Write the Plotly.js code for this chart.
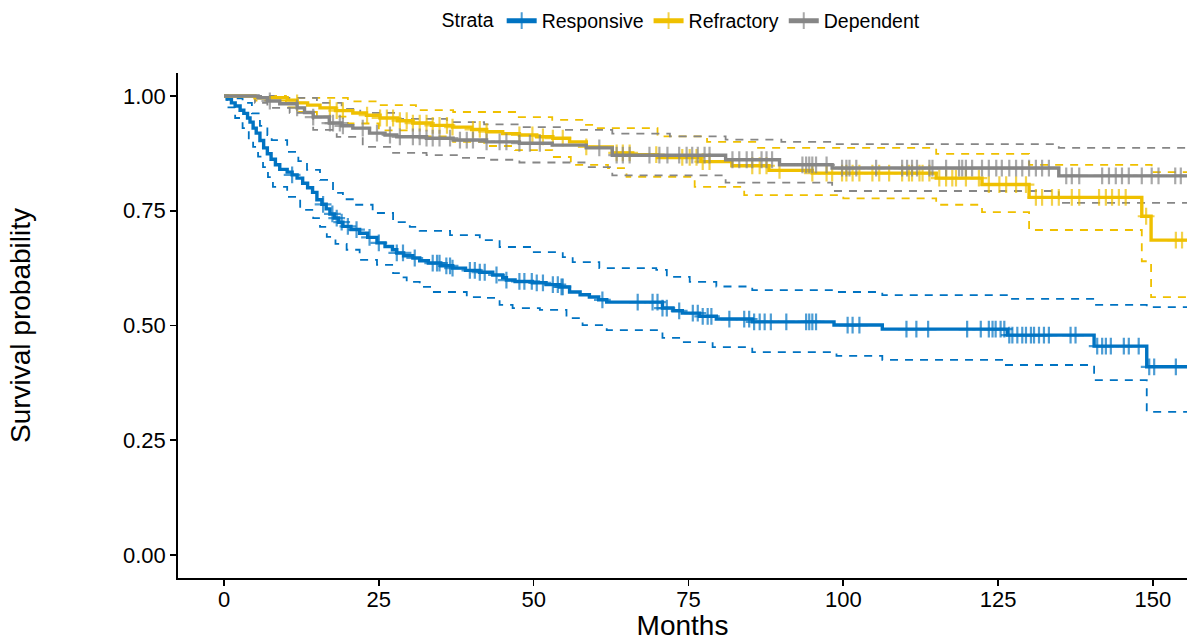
<!DOCTYPE html>
<html>
<head>
<meta charset="utf-8">
<script src="https://cdn.plot.ly/plotly-3.0.1.min.js"></script>
<style>html,body{margin:0;padding:0;background:#fff;}#chart{width:1187px;height:641px;}</style>
</head>
<body>
<div id="chart"></div>
<script>
// ---------- data ----------
const strata = ['Responsive', 'Refractory', 'Dependent'];
const colors = ['#0073C2', '#EFC000', '#868686'];

// Responsive
const respTime = [0,0.5,1.2,1.8,2.6,3.2,3.8,4.2,4.7,5.2,5.8,6.4,7.0,7.6,8.3,9.0,10.2,11.0,11.8,12.7,13.5,14.3,15.0,15.8,16.5,17.1,17.8,18.5,19.2,20.5,21.9,23.2,24.7,26.0,27.2,27.9,29.0,30.5,31.6,33.0,35.0,36.9,39.0,41.3,43.4,45.0,45.6,47.0,49.8,52.0,54.2,55.8,57.5,59.0,60.5,61.8,70.8,72.5,74.0,76.8,79.5,85.3,98.5,106.3,126.5,140.5,149.0,160];
const respSurv = [1,0.993,0.985,0.978,0.969,0.962,0.952,0.943,0.93,0.919,0.903,0.887,0.874,0.862,0.85,0.84,0.834,0.828,0.821,0.81,0.80,0.79,0.774,0.764,0.754,0.743,0.734,0.725,0.716,0.709,0.701,0.692,0.68,0.672,0.665,0.658,0.652,0.647,0.641,0.636,0.63,0.625,0.62,0.616,0.61,0.604,0.599,0.596,0.593,0.589,0.584,0.573,0.567,0.562,0.556,0.551,0.538,0.532,0.527,0.52,0.514,0.508,0.501,0.492,0.479,0.455,0.41,0.41];
const respUpperTime = [0,1.5,3,4.5,5.8,7.0,7.7,10.2,12,13.4,15.5,17.6,19.2,20.8,24,27.3,30,31.6,36.5,41.3,44.5,49.8,54.7,56.3,60.6,69.8,71.5,75.2,79.5,85.3,98.5,106.3,126.8,140.5,149,160];
const respUpper = [1,0.995,0.985,0.962,0.935,0.915,0.904,0.878,0.858,0.839,0.817,0.789,0.775,0.763,0.745,0.725,0.715,0.706,0.697,0.686,0.671,0.66,0.649,0.638,0.625,0.621,0.606,0.595,0.585,0.577,0.573,0.566,0.558,0.545,0.54,0.54];
const respLowerTime = [0,0.5,1.8,3,4.0,4.7,5.5,6.3,7.1,7.9,10.2,12.3,14.4,15.5,16.6,18,19.8,21.9,24.7,27.3,28.5,29.5,31.6,33.7,39.2,42.4,44.5,46.6,51,55.3,57.9,61.8,70.8,74,78.9,85.3,98.9,106.3,126,140.5,149,160];
const respLower = [1,0.975,0.952,0.93,0.905,0.889,0.868,0.845,0.823,0.802,0.78,0.752,0.734,0.715,0.693,0.678,0.665,0.643,0.632,0.614,0.605,0.595,0.584,0.573,0.562,0.56,0.545,0.538,0.534,0.516,0.501,0.49,0.473,0.464,0.453,0.442,0.434,0.425,0.414,0.381,0.312,0.312];
const respCensor = [11,16,17.5,18.2,19,20,21.4,23.5,25,27.9,28.9,30.8,33.7,34.4,34.8,35.9,36.5,36.9,39.7,40.5,41.3,42.1,44,45.6,47.7,48.5,49.7,50.5,51.5,53.1,53.9,54.5,54.7,61.1,66.8,69.2,70,70.8,71.5,73.5,75.7,76.5,77.3,78.1,78.7,81.6,84,84.8,85.6,86.5,87.3,88.3,90.8,94,94.5,95,95.6,100.7,101.5,102.6,110.2,111.8,113.7,120,122.2,123.5,124.1,124.6,125.4,126,126.8,127.3,128.1,128.9,129.5,130.3,130.8,131.6,132.4,133.2,136.7,137.5,141,141.8,142.4,143.2,145.3,146.1,147.7,149.4,150.2,153.7];

// Refractory
const refrTime = [0,5,10.2,11.8,13.5,15.5,18,20.8,23,25.2,28,30.5,33.5,36.9,40,42.4,45,47.7,50.5,53.1,55.8,58.5,62.7,66,70,77,82,88,95,115,122.4,130,148.2,149.7,160];
const refrSurv = [1,0.996,0.991,0.985,0.98,0.974,0.968,0.963,0.958,0.952,0.946,0.941,0.936,0.932,0.927,0.922,0.918,0.915,0.911,0.908,0.9,0.889,0.876,0.872,0.866,0.857,0.848,0.838,0.832,0.821,0.807,0.779,0.738,0.686,0.686];
const refrUpperTime = [0,10,20,25,31,37,47,53,58,60,70,78,86,115,130,149.8,160];
const refrUpper = [1,0.996,0.988,0.98,0.969,0.965,0.954,0.948,0.937,0.93,0.912,0.9,0.887,0.874,0.85,0.834,0.834];
const refrLowerTime = [0,5,10,12,15,20,25,30,37,42,47,53,56,62,65,76,84,100,115,122.4,130,148.2,149.7,160];
const refrLower = [1,0.99,0.975,0.965,0.955,0.94,0.925,0.912,0.9,0.891,0.882,0.867,0.85,0.843,0.824,0.802,0.784,0.777,0.763,0.747,0.708,0.64,0.562,0.562];
const refrCensor = [11.8,17.1,18.2,19.2,23.1,25.2,26.3,27.3,28.4,29.5,30.5,31.6,32.7,33.7,34.8,36,36.9,40.2,41.3,42.4,47.7,49.8,51.5,53.1,54.7,58.5,63.4,64.4,65.5,69.8,74,75.2,76.3,77.3,78.4,85.3,86.5,87.6,89.7,95,97.3,98.2,99.8,100.5,101.5,102.6,104.7,105.8,107.4,109.5,110.6,111.1,112.3,112.8,113.9,115.5,116.6,117.6,118.2,119.8,121.9,123.5,125.2,126.3,127.9,129.5,131.1,132.1,133.7,134.8,136.9,138.1,141.3,142.4,143.4,144.5,145.6,148.9,153.7,154.7];

// Dependent
const depTime = [0,5.5,7,9,11.8,13,14.4,17,19,20.8,23.5,26,27.9,32.7,37,42.4,47.7,53,58.5,62.7,81,89.7,98.2,134.8,160];
const depSurv = [1,0.996,0.989,0.983,0.974,0.964,0.954,0.941,0.935,0.93,0.919,0.915,0.911,0.908,0.904,0.9,0.897,0.893,0.887,0.871,0.861,0.85,0.843,0.826,0.826];
const depUpperTime = [0,8,15,19,22,28,36,42,48,55,62.7,72,81,90,98.2,134.8,160];
const depUpper = [1,0.996,0.985,0.972,0.963,0.95,0.943,0.938,0.932,0.926,0.918,0.912,0.905,0.9,0.895,0.887,0.887];
const depLowerTime = [0,5,7,10.6,14.4,18.2,22.4,27.3,32.7,37.6,42.4,47.7,58.5,62.7,81,98.2,134.8,160];
const depLower = [1,0.985,0.974,0.963,0.926,0.911,0.889,0.876,0.871,0.865,0.861,0.855,0.845,0.827,0.811,0.793,0.767,0.767];
const depCensor = [7.4,11.8,14.4,17.1,17.6,18.7,19.2,22.4,24.7,26.8,28.4,30.5,31.6,32.7,33.7,34.8,36.5,38.1,39.2,40.2,42.4,44.5,45.6,47.7,49.4,51,60.6,63.4,64.4,65.5,68.7,70.3,71.6,73.5,74.7,75.6,76.5,77.6,78.4,82.1,83.2,84.4,85.3,86.8,87.6,88.5,93.4,94,94.5,95,95.6,97.3,99.8,100.5,101,102.1,105.3,109.5,110.3,111.1,111.9,113.9,114.4,116.6,118.7,119.2,119.8,120.8,122.4,123.5,124.7,125.6,126.8,127.9,128.9,130,131.1,132.1,133.2,136,136.9,138.1,141.8,142.9,144,145,146.1,148.2,149.8,150.9,153.6,154.5];

const xTicks = [0, 25, 50, 75, 100, 125, 150];
const yTicks = [0, 0.25, 0.5, 0.75, 1];

// ---------- build ----------
const groups = [
  {name: strata[0], t: respTime, s: respSurv, ut: respUpperTime, u: respUpper, lt: respLowerTime, l: respLower, c: respCensor},
  {name: strata[1], t: refrTime, s: refrSurv, ut: refrUpperTime, u: refrUpper, lt: refrLowerTime, l: refrLower, c: refrCensor},
  {name: strata[2], t: depTime, s: depSurv, ut: depUpperTime, u: depUpper, lt: depLowerTime, l: depLower, c: depCensor}
];

function stepAt(times, vals, x) {
  let v = vals[0];
  for (let i = 0; i < times.length; i++) { if (times[i] <= x) v = vals[i]; else break; }
  return v;
}

const traces = [];
groups.forEach((g, k) => {
  [[g.ut, g.u], [g.lt, g.l]].forEach(([tt, vv]) => {
    traces.push({x: tt, y: vv, type: 'scatter', mode: 'lines', line: {shape: 'hv', color: colors[k], width: 1.8, dash: '8px,7px'}, showlegend: false, hoverinfo: 'skip'});
  });
});
groups.forEach((g, k) => {
  const pts = g.t.map(t => ({t: t, c: false})).concat(g.c.map(t => ({t: t, c: true})));
  pts.sort((a, b) => a.t - b.t || (a.c - b.c));
  traces.push({
    x: pts.map(p => p.t),
    y: pts.map(p => stepAt(g.t, g.s, p.t)),
    type: 'scatter', mode: 'lines+markers', name: g.name,
    line: {shape: 'hv', color: colors[k], width: 3.4},
    marker: {symbol: 'cross-thin', size: pts.map(p => p.c ? 12 : 0), color: colors[k], line: {color: colors[k], width: 2.2}}
  });
});

const layout = {
  width: 1187, height: 641,
  margin: {l: 178, r: 0, t: 73, b: 63, pad: 0},
  paper_bgcolor: '#fff', plot_bgcolor: '#fff',
  font: {family: '"Liberation Sans", Arial, sans-serif', color: '#000'},
  showlegend: true,
  legend: {orientation: 'h', x: 0.5, xanchor: 'center', y: 1.103, yanchor: 'middle',
    title: {text: 'Strata', side: 'left', font: {size: 19.5}}, font: {size: 19.5}, itemsizing: 'constant', traceorder: 'normal'},
  xaxis: {range: [-7.43, 155.5], tickvals: xTicks, ticks: 'outside', ticklen: 6, tickwidth: 1.6, tickcolor: '#000',
    ticklabelstandoff: -5,
    showline: true, linecolor: '#000', linewidth: 1.8, showgrid: false, zeroline: false,
    tickfont: {size: 22, color: '#000'}, title: {text: 'Months', font: {size: 28}, standoff: 2}},
  yaxis: {range: [-0.05, 1.05], tickvals: yTicks, tickformat: '.2f', ticks: 'outside', ticklen: 6, tickwidth: 1.6, tickcolor: '#000',
    showline: true, linecolor: '#000', linewidth: 1.8, showgrid: false, zeroline: false,
    tickfont: {size: 22, color: '#000'}, title: {text: 'Survival probability', font: {size: 28}, standoff: 84}}
};

Plotly.newPlot('chart', traces, layout, {displayModeBar: false, staticPlot: true});
</script>
</body>
</html>
